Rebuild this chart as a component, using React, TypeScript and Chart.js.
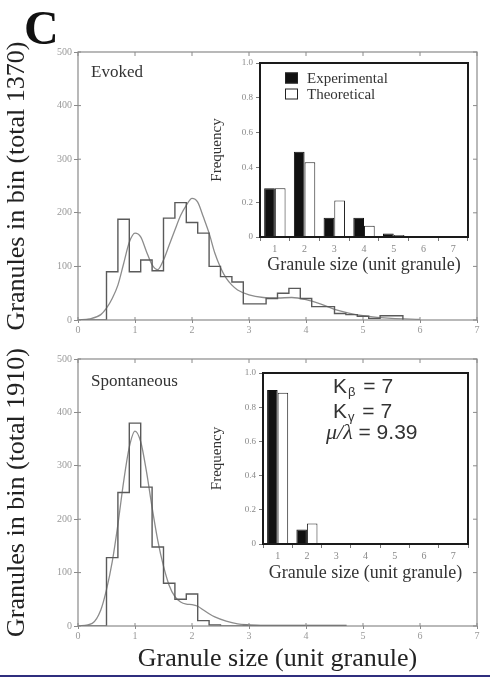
import React, { useEffect, useRef } from 'react';
import { Chart, registerables } from 'chart.js';

Chart.register(...registerables);
Chart.defaults.font.family = "'Liberation Serif', 'Times New Roman', serif";

// ---- Main histograms (left bin edges, counts) ----
const evokedEdges = [0, 0.5, 0.7, 0.9, 1.1, 1.3, 1.5, 1.7, 1.9, 2.1, 2.3, 2.5, 2.7, 2.9, 3.1, 3.3, 3.5, 3.7, 3.9, 4.1, 4.3, 4.5, 4.7, 4.9, 5.1, 5.3, 5.5, 5.7];
const evokedCounts = [0, 90, 188, 90, 112, 92, 190, 219, 182, 162, 100, 81, 71, 30, 30, 40, 50, 59, 40, 25, 25, 12, 10, 7, 3, 8, 8, 0];

const spontEdges = [0, 0.5, 0.7, 0.9, 1.1, 1.3, 1.5, 1.7, 1.9, 2.1, 2.3, 2.5, 2.9, 4.7];
const spontCounts = [0, 128, 250, 380, 260, 148, 80, 50, 60, 10, 2, 0, 1, 0];

// ---- Fitted curves ----
const evokedCurveX = [0, 0.2, 0.4, 0.5, 0.6, 0.7, 0.8, 0.9, 1.0, 1.1, 1.2, 1.3, 1.4, 1.5, 1.6, 1.7, 1.8, 1.9, 2.0, 2.1, 2.2, 2.3, 2.4, 2.5, 2.6, 2.7, 2.8, 3.0, 3.25, 3.5, 3.75, 4.0, 4.25, 4.5, 4.75, 5.0, 5.25, 5.5, 6.0];
const evokedCurveY = [0, 2, 10, 22, 40, 65, 105, 145, 162, 155, 128, 103, 94, 112, 140, 168, 195, 214, 227, 220, 192, 162, 125, 98, 78, 65, 56, 47, 42, 41, 42, 38, 30, 20, 13, 8, 5, 3, 1];

const spontCurveX = [0, 0.25, 0.4, 0.5, 0.6, 0.7, 0.8, 0.9, 1.0, 1.1, 1.2, 1.3, 1.4, 1.5, 1.6, 1.7, 1.8, 1.9, 2.0, 2.1, 2.2, 2.3, 2.4, 2.6, 2.8, 3.0, 3.3];
const spontCurveY = [0, 5, 30, 68, 120, 190, 270, 335, 365, 345, 290, 222, 160, 112, 76, 55, 45, 41, 40, 37, 30, 23, 17, 9, 4, 2, 0];

// ---- Inset bar data ----
const sizeLabels = ['1', '2', '3', '4', '5', '6', '7'];
const evokedExperimental = [0.28, 0.49, 0.11, 0.11, 0.02, 0, 0];
const evokedTheoretical = [0.28, 0.43, 0.21, 0.065, 0.012, 0.002, 0];
const spontExperimental = [0.9, 0.085, 0.004, 0, 0, 0, 0];
const spontTheoretical = [0.885, 0.12, 0.006, 0, 0, 0, 0];

const xTickValues = [0, 1, 2, 3, 4, 5, 6, 7];
const yTickValues = [0, 100, 200, 300, 400, 500];

const SERIF = "'Liberation Serif', 'Times New Roman', serif";
const SANS = "'Liberation Sans', Arial, sans-serif";

function mainFramePlugin(panelLabel: string, showC: boolean, labelDy: number) {
  return {
    id: 'mainFrame',
    afterDraw(chart: any) {
      const { ctx, chartArea } = chart;
      const { left, top, right, bottom } = chartArea;
      const xs = chart.scales.x;
      const ys = chart.scales.y;
      ctx.save();
      ctx.strokeStyle = '#8a8a8a';
      ctx.lineWidth = 1.2;
      ctx.strokeRect(left, top, right - left, bottom - top);
      ctx.lineWidth = 1;
      ctx.beginPath();
      xs.ticks.forEach((t: any) => {
        const px = xs.getPixelForValue(t.value);
        ctx.moveTo(px, top);
        ctx.lineTo(px, top + 4);
        ctx.moveTo(px, bottom);
        ctx.lineTo(px, bottom - 3);
      });
      ys.ticks.forEach((t: any) => {
        const py = ys.getPixelForValue(t.value);
        ctx.moveTo(right, py);
        ctx.lineTo(right - 4, py);
        ctx.moveTo(left, py);
        ctx.lineTo(left + 3, py);
      });
      ctx.stroke();
      ctx.fillStyle = '#333';
      ctx.font = `17px ${SERIF}`;
      ctx.textBaseline = 'alphabetic';
      ctx.textAlign = 'left';
      ctx.fillText(panelLabel, left + 13, top + labelDy);
      if (showC) {
        ctx.fillStyle = '#111';
        ctx.font = `bold 48px ${SERIF}`;
        ctx.fillText('C', 24, 44);
      }
      ctx.restore();
    },
  };
}

function insetFramePlugin(kind: 'legend' | 'params') {
  return {
    id: 'insetFrame',
    afterDraw(chart: any) {
      const { ctx, chartArea } = chart;
      const { left, top, right, bottom } = chartArea;
      ctx.save();
      ctx.strokeStyle = '#1a1a1a';
      ctx.lineWidth = 2;
      ctx.strokeRect(left, top, right - left, bottom - top);
      ctx.textBaseline = 'alphabetic';
      ctx.textAlign = 'left';
      if (kind === 'legend') {
        const ds = chart.data.datasets;
        ds.forEach((d: any, i: number) => {
          const sx = left + 25;
          const sy = top + 9.5 + i * 16;
          ctx.fillStyle = d.backgroundColor;
          ctx.fillRect(sx, sy, 13, 11);
          ctx.strokeStyle = '#222';
          ctx.lineWidth = 1;
          ctx.strokeRect(sx + 0.5, sy + 0.5, 12, 10);
          ctx.fillStyle = '#333';
          ctx.font = `15px ${SERIF}`;
          ctx.fillText(d.label, sx + 22, sy + 10.5);
        });
      } else {
        ctx.fillStyle = '#333';
        const drawK = (sub: string, y: number) => {
          let x = left + 70;
          ctx.font = `21px ${SANS}`;
          ctx.fillText('K', x, y);
          x += ctx.measureText('K').width;
          ctx.font = `13px ${SANS}`;
          ctx.fillText(sub, x + 1, y + 3);
          x += ctx.measureText(sub).width + 3;
          ctx.font = `21px ${SANS}`;
          ctx.fillText(' = 7', x, y);
        };
        drawK('β', top + 20);
        drawK('γ', top + 45);
        let x = left + 63;
        const y = top + 65.5;
        ctx.font = `italic 22px ${SERIF}`;
        ctx.fillText('μ/λ', x, y);
        x += ctx.measureText('μ/λ').width;
        ctx.font = `21px ${SANS}`;
        ctx.fillText(' = 9.39', x, y);
      }
      ctx.restore();
    },
  };
}

function mainConfig(p: {
  edges: number[]; counts: number[]; cx: number[]; cy: number[];
  padTop: number; xAxisH: number; yTitle: string; xTitle: string | null;
  label: string; showC: boolean; labelDy: number;
}): any {
  return {
    type: 'line',
    data: {
      datasets: [
        {
          data: p.edges.map((x, i) => ({ x, y: p.counts[i] })),
          stepped: 'before',
          borderColor: '#5a5a5a',
          borderWidth: 1.4,
          pointRadius: 0,
          fill: false,
        },
        {
          data: p.cx.map((x, i) => ({ x, y: p.cy[i] })),
          borderColor: '#8c8c8c',
          borderWidth: 1.3,
          pointRadius: 0,
          fill: false,
          cubicInterpolationMode: 'monotone',
        },
      ],
    },
    options: {
      animation: false,
      responsive: false,
      maintainAspectRatio: false,
      layout: { padding: { top: p.padTop, right: 13, left: 0, bottom: 0 } },
      plugins: { legend: { display: false }, tooltip: { enabled: false } },
      scales: {
        x: {
          type: 'linear',
          min: 0,
          max: 7,
          afterBuildTicks: (s: any) => { s.ticks = xTickValues.map((v) => ({ value: v })); },
          ticks: { autoSkip: false, maxRotation: 0, font: { size: 10 }, color: '#999', padding: 1 },
          grid: { drawOnChartArea: false, tickLength: 3, color: '#8a8a8a' },
          border: { display: false },
          title: p.xTitle
            ? { display: true, text: p.xTitle, font: { size: 26 }, color: '#222', padding: { top: 0, bottom: 2 } }
            : { display: false },
          afterFit: (s: any) => { s.height = p.xAxisH; },
        },
        y: {
          type: 'linear',
          min: 0,
          max: 500,
          afterBuildTicks: (s: any) => { s.ticks = yTickValues.map((v) => ({ value: v })); },
          ticks: { font: { size: 10 }, color: '#999', padding: 2 },
          grid: { drawOnChartArea: false, tickLength: 4, color: '#8a8a8a' },
          border: { display: false },
          title: { display: true, text: p.yTitle, font: { size: 26 }, color: '#222', padding: { top: 2, bottom: 0 } },
          afterFit: (s: any) => { s.width = 78; },
        },
      },
    },
    plugins: [mainFramePlugin(p.label, p.showC, p.labelDy)],
  };
}

function insetConfig(p: {
  exp: number[]; theo: number[]; padTop: number; yAxisW: number; xAxisH: number;
  titlePadBottom: number; kind: 'legend' | 'params';
}): any {
  return {
    type: 'bar',
    data: {
      labels: sizeLabels,
      datasets: [
        { label: 'Experimental', data: p.exp, backgroundColor: '#111', borderColor: '#111', borderWidth: 1 },
        { label: 'Theoretical', data: p.theo, backgroundColor: '#ffffff', borderColor: '#222', borderWidth: 1 },
      ],
    },
    options: {
      animation: false,
      responsive: false,
      maintainAspectRatio: false,
      layout: { padding: { top: p.padTop, right: 4, left: 0, bottom: 0 } },
      datasets: { bar: { categoryPercentage: 0.72, barPercentage: 1 } },
      plugins: { legend: { display: false }, tooltip: { enabled: false } },
      scales: {
        x: {
          ticks: { font: { size: 10 }, color: '#888', padding: 2, maxRotation: 0 },
          grid: { offset: true, drawOnChartArea: false, tickLength: 4, color: '#777' },
          border: { display: false },
          title: {
            display: true, text: 'Granule size (unit granule)', font: { size: 18 }, color: '#333',
            padding: { top: 0, bottom: p.titlePadBottom },
          },
          afterFit: (s: any) => { s.height = p.xAxisH; },
        },
        y: {
          min: 0,
          max: 1,
          ticks: {
            stepSize: 0.2,
            font: { size: 9 },
            color: '#888',
            padding: 3,
            callback: (v: any) => (Number(v) === 0 ? '0' : Number(v).toFixed(1)),
          },
          grid: { drawOnChartArea: false, tickLength: 4, color: '#777' },
          border: { display: false },
          title: { display: true, text: 'Frequency', font: { size: 15 }, color: '#333', padding: { top: 18, bottom: 0 } },
          afterFit: (s: any) => { s.width = p.yAxisW; },
        },
      },
    },
    plugins: [insetFramePlugin(p.kind)],
  };
}

function ChartCanvas(props: { config: any; left: number; top: number; width: number; height: number; z: number }) {
  const ref = useRef<HTMLCanvasElement | null>(null);
  useEffect(() => {
    if (!ref.current) return;
    const chart = new Chart(ref.current, props.config);
    return () => chart.destroy();
  }, []);
  return (
    <canvas
      ref={ref}
      width={props.width}
      height={props.height}
      style={{ position: 'absolute', left: props.left, top: props.top, width: props.width, height: props.height, zIndex: props.z }}
    />
  );
}

export default function App() {
  const topMain = mainConfig({
    edges: evokedEdges, counts: evokedCounts, cx: evokedCurveX, cy: evokedCurveY,
    padTop: 52, xAxisH: 20, yTitle: 'Granules in bin (total 1370)', xTitle: null,
    label: 'Evoked', showC: true, labelDy: 25,
  });
  const bottomMain = mainConfig({
    edges: spontEdges, counts: spontCounts, cx: spontCurveX, cy: spontCurveY,
    padTop: 19, xAxisH: 51, yTitle: 'Granules in bin (total 1910)', xTitle: 'Granule size (unit granule)',
    label: 'Spontaneous', showC: false, labelDy: 27,
  });
  const topInset = insetConfig({
    exp: evokedExperimental, theo: evokedTheoretical, padTop: 13, yAxisW: 70, xAxisH: 41, titlePadBottom: 2, kind: 'legend',
  });
  const bottomInset = insetConfig({
    exp: spontExperimental, theo: spontTheoretical, padTop: 13, yAxisW: 73, xAxisH: 44, titlePadBottom: 4, kind: 'params',
  });
  return (
    <div style={{ position: 'absolute', left: 0, top: 0, width: 490, height: 677, background: '#fff', overflow: 'hidden' }}>
      <ChartCanvas config={topMain} left={0} top={0} width={490} height={340} z={1} />
      <ChartCanvas config={bottomMain} left={0} top={340} width={490} height={337} z={1} />
      <ChartCanvas config={topInset} left={190} top={50} width={282} height={228} z={2} />
      <ChartCanvas config={bottomInset} left={190} top={360} width={282} height={228} z={2} />
      <div style={{ position: 'absolute', left: 0, top: 675, width: 490, height: 2, background: '#2f2e7e', zIndex: 3 }} />
    </div>
  );
}
